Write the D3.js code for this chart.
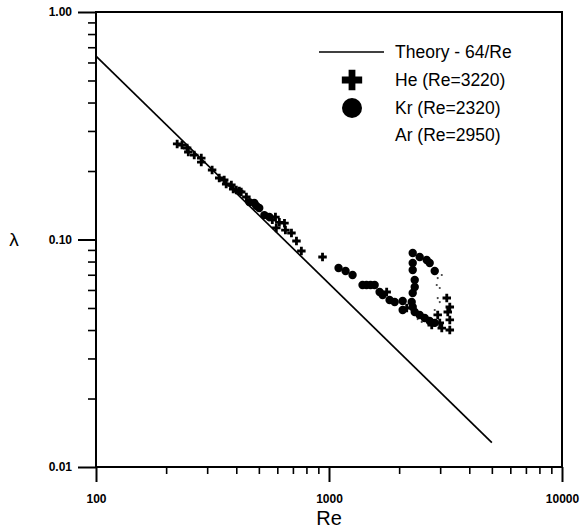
<!DOCTYPE html>
<html>
<head>
<meta charset="utf-8">
<script src="https://cdn.jsdelivr.net/npm/d3@7"></script>
<style>
  body { margin: 0; background: #fff; }
  text { font-family: "Liberation Sans", Arial, sans-serif; fill: #000; }
</style>
</head>
<body>
<svg width="582" height="532"></svg>
<script>
var svg = d3.select("svg");

// theory line end points (lambda = 64/Re)
var theoryRe = [100, 5000];

// He (crosses)
var heRe = [223, 234, 246, 249, 264, 283, 283, 315, 338, 355, 362, 381, 388, 400, 412, 420, 442,
    571, 589, 612, 644, 594, 650, 690, 725, 761, 938,
    1768, 2155, 2760, 2988, 3202, 3299, 3234, 3299, 3048, 3299, 2928];
var heLam = [0.263, 0.260, 0.2525, 0.2424, 0.235, 0.228, 0.219, 0.202, 0.1864, 0.1826, 0.1754, 0.1736, 0.1667, 0.165, 0.1633, 0.1617, 0.1537,
    0.122, 0.1255, 0.119, 0.118, 0.1124, 0.110, 0.1068, 0.0985, 0.089, 0.0838,
    0.0588, 0.050, 0.0421, 0.043, 0.0553, 0.0505, 0.048, 0.0443, 0.0408, 0.040, 0.0466];

// Kr (circles)
var krRe = [455, 478, 488, 502, 528, 555,
    1099, 1178, 1262, 1393, 1449, 1508, 1570, 1649, 1699, 1820, 1914, 2071, 2071,
    2287, 2450, 2626, 2705, 2843, 2287, 2287, 2333, 2333, 2287, 2264, 2287, 2333, 2450, 2575, 2705, 2843];
var krLam = [0.146, 0.1447, 0.1404, 0.1376, 0.128, 0.1256,
    0.0749, 0.0727, 0.0698, 0.0631, 0.0631, 0.0631, 0.0631, 0.0588, 0.057, 0.0542, 0.0531, 0.0537, 0.049,
    0.0872, 0.0838, 0.0813, 0.0788, 0.0727, 0.0788, 0.0734, 0.0664, 0.0618, 0.0582, 0.0531, 0.0505, 0.048, 0.0466, 0.0452, 0.0438, 0.043];

// Ar (tiny dots)
var arRe = [2928, 3048, 2900, 2988, 2928, 2988, 2843, 2871, 2402, 2500];
var arLam = [0.0677, 0.0698, 0.0631, 0.0612, 0.0553, 0.0531, 0.049, 0.0443, 0.0447, 0.0434];

var legendLabels = ["Theory - 64/Re", "He (Re=3220)", "Kr (Re=2320)", "Ar (Re=2950)"];

var x = d3.scaleLog().domain([100, 10000]).range([96, 562]);
var y = d3.scaleLog().domain([0.01, 1]).range([467, 12]);

var minorX = [], minorY = [];
[100, 1000].forEach(function (d) {
    for (var k = 2; k < 10; k++) minorX.push(d * k);
});
[0.01, 0.1].forEach(function (d) {
    for (var k = 2; k < 10; k++) minorY.push(d * k);
});

// minor ticks
svg.append("g")
    .attr("transform", "translate(0," + y(0.01) + ")")
    .call(d3.axisBottom(x).tickValues(minorX).tickSize(7).tickFormat(""))
    .call(g => g.select(".domain").remove())
    .selectAll("line").attr("stroke-width", 1.6);
svg.append("g")
    .attr("transform", "translate(" + x(100) + ",0)")
    .call(d3.axisLeft(y).tickValues(minorY).tickSize(8).tickFormat(""))
    .call(g => g.select(".domain").remove())
    .selectAll("line").attr("stroke-width", 1.6);

// major ticks and labels
var xAxis = svg.append("g")
    .attr("transform", "translate(0," + y(0.01) + ")")
    .call(d3.axisBottom(x).tickValues([100, 1000, 10000]).tickSize(15).tickPadding(12).tickFormat(d3.format("d")))
    .call(g => g.select(".domain").remove());
xAxis.selectAll("line").attr("stroke-width", 2);
xAxis.selectAll("text").attr("font-size", 12).attr("font-weight", "bold")
    .attr("font-family", "Liberation Sans, Arial, sans-serif");

var yAxis = svg.append("g")
    .attr("transform", "translate(" + x(100) + ",0)")
    .call(d3.axisLeft(y).tickValues([0.01, 0.1, 1]).tickSize(18).tickPadding(6).tickFormat(d3.format(".2f")))
    .call(g => g.select(".domain").remove());
yAxis.selectAll("line").attr("stroke-width", 2);
yAxis.selectAll("text").attr("font-size", 12).attr("font-weight", "bold")
    .attr("font-family", "Liberation Sans, Arial, sans-serif");

// frame
svg.append("rect")
    .attr("x", x(100)).attr("y", y(1))
    .attr("width", x(10000) - x(100)).attr("height", y(0.01) - y(1))
    .attr("fill", "none").attr("stroke", "#000").attr("stroke-width", 2);

// axis titles
svg.append("text").attr("x", x(1000)).attr("y", 525)
    .attr("text-anchor", "middle").attr("font-size", 20).text("Re");
svg.append("text").attr("x", 14).attr("y", y(0.1)).attr("dy", "0.35em")
    .attr("text-anchor", "middle").attr("font-size", 19).text("λ");

// theory line
svg.append("line")
    .attr("x1", x(theoryRe[0])).attr("y1", y(64 / theoryRe[0]))
    .attr("x2", x(theoryRe[1])).attr("y2", y(64 / theoryRe[1]))
    .attr("stroke", "#000").attr("stroke-width", 1.7);

var cross = d3.symbol().type(d3.symbolCross);

// Ar dots
svg.append("g").selectAll("circle")
    .data(d3.zip(arRe, arLam))
    .enter().append("circle")
    .attr("cx", d => x(d[0])).attr("cy", d => y(d[1]))
    .attr("r", 1.1).attr("fill", "#444");

// Kr circles
svg.append("g").selectAll("circle")
    .data(d3.zip(krRe, krLam))
    .enter().append("circle")
    .attr("cx", d => x(d[0])).attr("cy", d => y(d[1]))
    .attr("r", 4.2).attr("fill", "#000");

// He crosses
svg.append("g").selectAll("path")
    .data(d3.zip(heRe, heLam))
    .enter().append("path")
    .attr("d", cross.size(40)())
    .attr("transform", d => "translate(" + x(d[0]) + "," + y(d[1]) + ")")
    .attr("fill", "#000");

// legend
var legend = svg.append("g");
legend.append("line").attr("x1", 319).attr("x2", 384).attr("y1", 52).attr("y2", 52)
    .attr("stroke", "#000").attr("stroke-width", 1.5);
legend.append("path").attr("d", d3.symbol().type(d3.symbolCross).size(230)())
    .attr("transform", "translate(352,80)");
legend.append("circle").attr("cx", 352).attr("cy", 108).attr("r", 10);
legend.selectAll("text")
    .data(legendLabels)
    .enter().append("text")
    .attr("x", 395)
    .attr("y", (d, i) => 52 + i * 27.7)
    .attr("dy", "0.35em")
    .attr("font-size", 17.5)
    .text(d => d);
</script>
</body>
</html>
